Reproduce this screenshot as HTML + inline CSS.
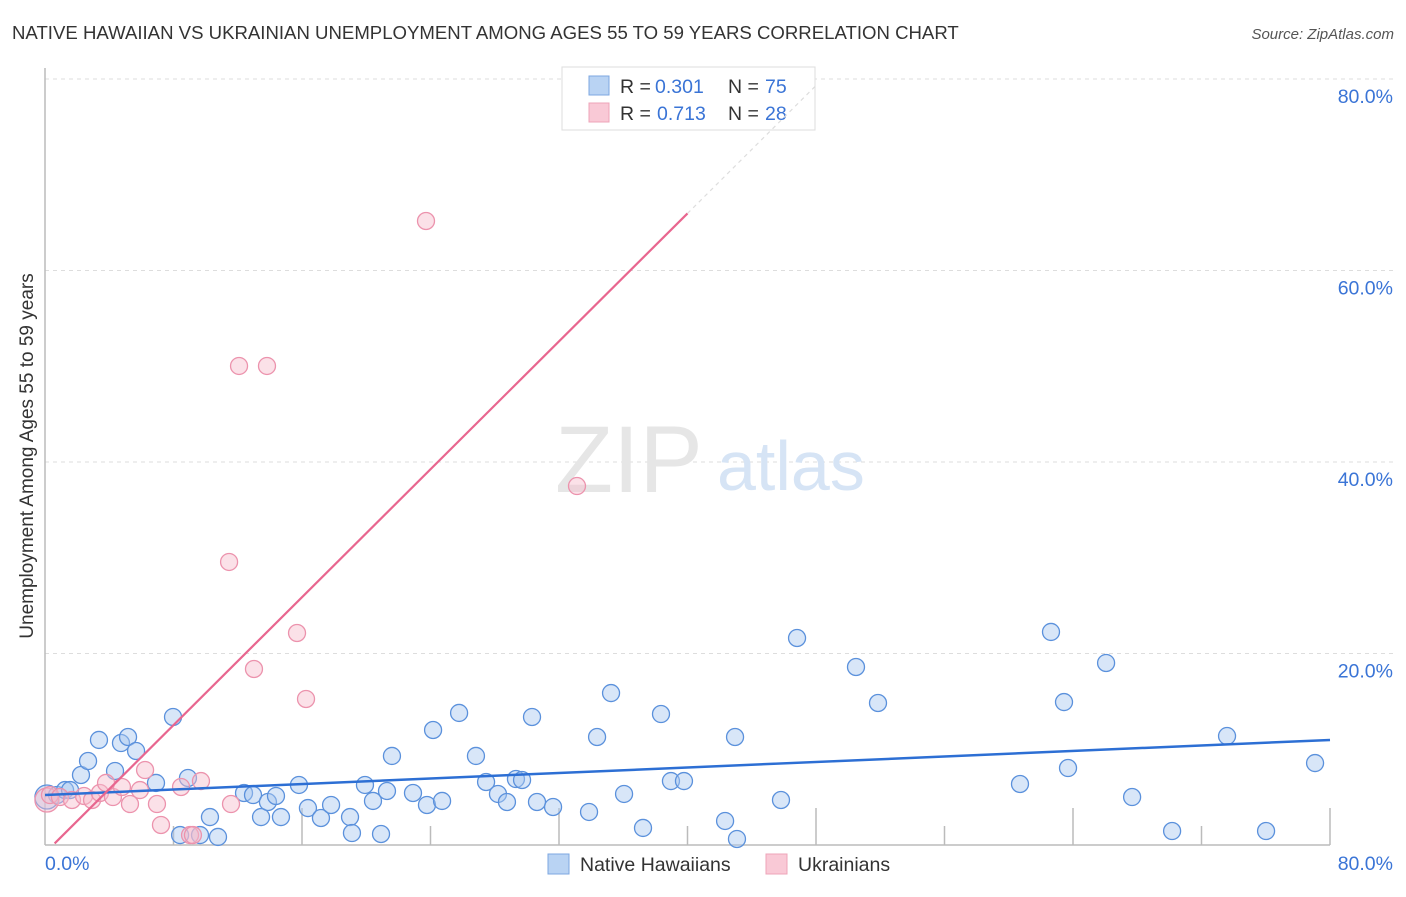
<!DOCTYPE html>
<html><head><meta charset="utf-8"><style>
body{margin:0;background:#fff;font-family:"Liberation Sans",sans-serif;}
svg text{font-family:"Liberation Sans",sans-serif;}
</style></head><body>
<svg id="chart" width="1406" height="892" viewBox="0 0 1406 892">
<text x="12" y="39" font-size="18.6" fill="#333">NATIVE HAWAIIAN VS UKRAINIAN UNEMPLOYMENT AMONG AGES 55 TO 59 YEARS CORRELATION CHART</text>
<text x="1394" y="39" font-size="15" fill="#555" font-style="italic" text-anchor="end">Source: ZipAtlas.com</text>
<text transform="translate(33,456) rotate(-90)" font-size="19" fill="#333" text-anchor="middle">Unemployment Among Ages 55 to 59 years</text>
<g id="grid"></g>
<text x="555" y="492" font-size="95" fill="#e6e6e6" font-family="Liberation Serif">ZIP</text>
<text x="717" y="490" font-size="70" fill="#d6e4f5">atlas</text>
<g id="marks"></g>
<g>
<rect x="562" y="67" width="253" height="63" fill="#fff" stroke="#ddd"/>
<rect x="589" y="76" width="20" height="19" fill="#b9d3f3" stroke="#7da7e0"/>
<text x="620" y="93" font-size="19.5" fill="#333">R =</text>
<text x="655" y="93" font-size="19.5" fill="#3a74d6">0.301</text>
<text x="728" y="93" font-size="19.5" fill="#333">N =</text>
<text x="765" y="93" font-size="19.5" fill="#3a74d6">75</text>
<rect x="589" y="103" width="20" height="19" fill="#f9c9d6" stroke="#eea4b8"/>
<text x="620" y="120" font-size="19.5" fill="#333">R =</text>
<text x="657" y="120" font-size="19.5" fill="#3a74d6">0.713</text>
<text x="728" y="120" font-size="19.5" fill="#333">N =</text>
<text x="765" y="120" font-size="19.5" fill="#3a74d6">28</text>
</g>
<g id="ext"></g>
<g>
<rect x="548" y="854" width="21" height="20" fill="#b9d3f3" stroke="#7da7e0"/>
<text x="580" y="871" font-size="19.5" fill="#333">Native Hawaiians</text>
<rect x="766" y="854" width="21" height="20" fill="#f9c9d6" stroke="#eea4b8"/>
<text x="798" y="871" font-size="19.5" fill="#333">Ukrainians</text>
</g>
</svg>
<script>
const blueX=[0.12,0.75,1.25,1.56,2.24,2.68,3.36,4.36,4.73,5.17,5.67,6.91,7.97,8.90,8.41,9.65,10.27,10.77,12.39,12.95,13.45,13.88,14.38,14.69,15.81,16.37,17.18,17.81,18.99,19.11,19.92,20.42,20.92,21.29,21.60,22.91,23.78,24.16,24.72,25.78,26.83,27.46,28.20,28.76,29.32,29.70,30.32,30.63,31.63,33.87,34.37,35.24,36.05,37.23,38.35,38.97,39.78,42.34,42.96,43.08,45.82,46.82,50.49,51.86,60.70,62.63,63.44,63.69,66.06,67.68,70.17,73.59,76.02,79.07];
const blueY=[5.01,5.22,5.74,5.74,7.31,8.77,10.97,7.73,10.65,11.28,9.82,6.48,13.37,7.00,1.04,1.04,2.92,0.84,5.43,5.22,2.92,4.49,5.12,2.92,6.27,3.86,2.82,4.18,2.92,1.25,6.27,4.60,1.15,5.64,9.30,5.43,4.18,12.01,4.60,13.79,9.30,6.58,5.33,4.49,6.89,6.79,13.37,4.49,3.97,3.45,11.28,15.87,5.33,1.78,13.68,6.68,6.68,2.51,11.28,0.63,4.70,21.62,18.59,14.83,6.37,22.25,14.93,8.04,19.01,5.01,1.46,11.38,1.46,8.56];
const pinkX=[0.12,0.31,0.93,1.68,2.43,2.93,3.42,3.80,4.23,4.79,5.29,5.91,6.23,6.97,7.22,8.47,9.03,9.21,9.71,11.58,11.46,12.08,13.82,13.01,15.69,16.25,23.72,33.12];
const pinkY=[4.70,5.22,5.01,4.70,5.12,4.70,5.43,6.48,5.01,6.06,4.28,5.74,7.83,4.28,2.09,6.06,1.04,1.04,6.68,4.28,29.56,50.03,50.03,18.38,22.14,15.25,65.17,37.49];
const blueTrend=[5.22,10.97];
const pinkTrend=[-0.84,1.67];
const yTicks=[20,40,60,80];
const xTickLabels=["0.0%","80.0%"];
const NS="http://www.w3.org/2000/svg";
const X0=45,X1=1330,Y0=845,YS=191.5/20;
const sx=v=>X0+(v/80)*(X1-X0);
const sy=v=>Y0-v*YS;
function mk(tag,attrs,parent){const e=document.createElementNS(NS,tag);for(const k in attrs)e.setAttribute(k,attrs[k]);parent.appendChild(e);return e;}
const grid=document.getElementById('grid'),marks=document.getElementById('marks'),ext=document.getElementById('ext');
yTicks.forEach(t=>{
 const l=mk('line',{x1:X0,x2:1395,y1:sy(t),y2:sy(t),stroke:'#ddd','stroke-dasharray':'4,4'},grid);
 
 
 const tx=mk('text',{x:1393,y:sy(t)+24,'font-size':19.5,fill:'#3a74d6','text-anchor':'end'},grid);
 tx.textContent=t.toFixed(1)+'%';
 
 
});
const ax=mk('line',{x1:X0,x2:X0,y1:68,y2:Y0,stroke:'#bbb','stroke-width':1.5},grid);


const bx=mk('line',{x1:X0,x2:X1,y1:Y0,y2:Y0,stroke:'#bbb','stroke-width':1.5},grid);


for(let i=1;i<=10;i++){
 const h=(i%2==0)?37:19;
 const t=mk('line',{x1:sx(i*8),x2:sx(i*8),y1:Y0-h,y2:Y0,stroke:'#bbb','stroke-width':1.5},grid);
 
 
}
const xl0=mk('text',{x:45,y:870,'font-size':19.5,fill:'#3a74d6'},grid);xl0.textContent=xTickLabels[0];


const xl1=mk('text',{x:1393,y:870,'font-size':19.5,fill:'#3a74d6','text-anchor':'end'},grid);xl1.textContent=xTickLabels[1];


function dot(x,y,r,fill,stroke,name){
 const c=mk('circle',{cx:sx(x),cy:sy(y),r:r,fill:fill,'fill-opacity':0.45,stroke:stroke,'stroke-width':1.3},marks);
 
 
}
blueX.forEach((x,i)=>dot(x,blueY[i],i==0?12:8.5,'#a9c8f0','#5b91dc','native-hawaiian-point'));
pinkX.forEach((x,i)=>dot(x,pinkY[i],i==0?12:8.5,'#f7bccc','#ec93ad','ukrainian-point'));
const bl=mk('line',{x1:sx(0),y1:sy(blueTrend[0]),x2:sx(80),y2:sy(blueTrend[1]),stroke:'#2d6fd4','stroke-width':2.5},marks);


const pf=x=>pinkTrend[0]+pinkTrend[1]*x;
const pl=mk('line',{x1:sx(0.6),y1:sy(pf(0.6)),x2:sx(40),y2:sy(pf(40)),stroke:'#e8668f','stroke-width':2.2},marks);


const pd=mk('line',{x1:sx(40),y1:sy(pf(40)),x2:sx(48),y2:sy(pf(48)),stroke:'#ddd','stroke-width':1.2,'stroke-dasharray':'4,4'},ext);


</script>
</body></html>
